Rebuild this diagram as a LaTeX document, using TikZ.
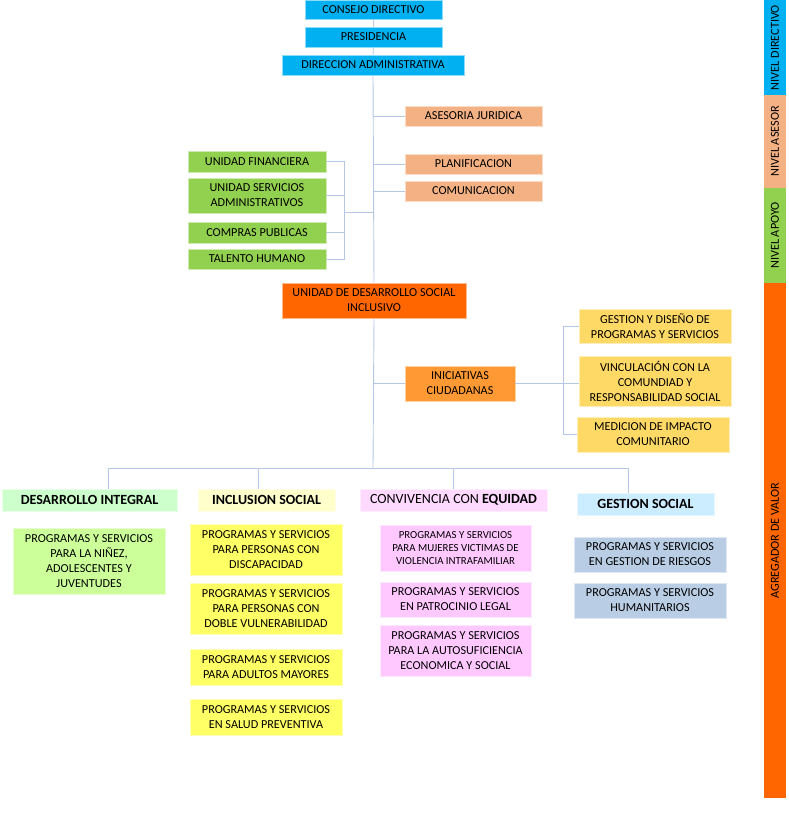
\documentclass[tikz,border=0pt]{standalone}
\usepackage{fontspec}
\setmainfont{Carlito}
\definecolor{topblue}{HTML}{00B0F0}
\definecolor{peach}{HTML}{F4B183}
\definecolor{apoyogreen}{HTML}{92D050}
\definecolor{deeporange}{HTML}{FF6600}
\definecolor{iniorange}{HTML}{FF9933}
\definecolor{gold}{HTML}{FFD966}
\definecolor{mint}{HTML}{CCFFCC}
\definecolor{lime}{HTML}{CCFF99}
\definecolor{cream}{HTML}{FFFFCC}
\definecolor{lemon}{HTML}{FFFF66}
\definecolor{lightpink}{HTML}{FFD9FF}
\definecolor{pink}{HTML}{FFC9FF}
\definecolor{skyblue}{HTML}{CCECFF}
\definecolor{steel}{HTML}{B9CDE5}
\definecolor{lineblue}{HTML}{B4C7E7}
\newcommand{\orgfont}{\fontsize{12.2}{15}\selectfont}
\newcommand{\headfont}{\fontsize{14}{16}\selectfont}
\tikzset{
  box/.style={fill=#1, draw=#1!45!white, line width=0.7pt, inner sep=0pt,
    align=center, font=\orgfont, text=black},
  head/.style={box=#1, font=\headfont\bfseries},
  level/.style={fill=#1, inner sep=0pt, rotate=90, minimum height=22pt,
    font=\orgfont, text=black},
  link/.style={draw=lineblue, line width=0.9pt}
}
\begin{document}
\begin{tikzpicture}[x=1pt,y=-1pt]
  \useasboundingbox (0,0) rectangle (788,819);
  % nivel directivo
  \node[box=topblue, minimum width=137pt, minimum height=19pt] (consejo) at (373.5,9.5) {CONSEJO DIRECTIVO};
  \node[box=topblue, minimum width=137pt, minimum height=20pt] (presid) at (373.5,37) {PRESIDENCIA};
  \node[box=topblue, minimum width=182pt, minimum height=20pt] (direc) at (373,65) {DIRECCION ADMINISTRATIVA};
  % nivel asesor
  \node[box=peach, minimum width=137pt, minimum height=20pt] (asesoria) at (473.5,116) {ASESORIA JURIDICA};
  \node[box=peach, minimum width=137pt, minimum height=20pt] (planif) at (473.5,164) {PLANIFICACION};
  \node[box=peach, minimum width=137pt, minimum height=20pt] (comun) at (473.5,191) {COMUNICACION};
  % nivel apoyo
  \node[box=apoyogreen, minimum width=138pt, minimum height=21pt] (financ) at (257,161.5) {UNIDAD FINANCIERA};
  \node[box=apoyogreen, minimum width=138pt, minimum height=35pt] (servic) at (257,195.5) {UNIDAD SERVICIOS\\ADMINISTRATIVOS};
  \node[box=apoyogreen, minimum width=138pt, minimum height=21pt] (compras) at (257,232.5) {COMPRAS PUBLICAS};
  \node[box=apoyogreen, minimum width=138pt, minimum height=20pt] (talento) at (257,259) {TALENTO HUMANO};
  % agregador de valor
  \node[box=deeporange, minimum width=184pt, minimum height=35pt] (udsi) at (374,300.5) {UNIDAD DE DESARROLLO SOCIAL\\INCLUSIVO};
  \node[box=iniorange, minimum width=110pt, minimum height=35pt] (inicia) at (460,383.5) {INICIATIVAS\\CIUDADANAS};
  \node[box=gold, minimum width=152pt, minimum height=34pt] (gestdis) at (655,326) {GESTION Y DISEÑO DE\\PROGRAMAS Y SERVICIOS};
  \node[box=gold, minimum width=152pt, minimum height=50pt] (vincul) at (655,381.5) {VINCULACIÓN CON LA\\COMUNDIAD Y\\RESPONSABILIDAD SOCIAL};
  \node[box=gold, minimum width=152pt, minimum height=35pt] (medic) at (653,434.5) {MEDICION DE IMPACTO\\COMUNITARIO};
  % areas
  \node[head=mint, minimum width=175pt, minimum height=22pt] (desint) at (89.5,500) {DESARROLLO INTEGRAL};
  \node[head=cream, minimum width=137pt, minimum height=22pt] (inclus) at (266.5,500) {INCLUSION SOCIAL};
  \node[box=lightpink, font=\headfont, minimum width=187pt, minimum height=22pt] (conviv) at (453.5,500) {CONVIVENCIA CON \textbf{EQUIDAD}};
  \node[head=skyblue, minimum width=137pt, minimum height=22pt] (gessoc) at (645.5,504) {GESTION SOCIAL};
  % programas
  \node[box=lime, minimum width=152pt, minimum height=66pt] (ninez) at (89,561) {PROGRAMAS Y SERVICIOS\\PARA LA NIÑEZ,\\ADOLESCENTES Y\\JUVENTUDES};
  \node[box=lemon, minimum width=152pt, minimum height=51pt] (discap) at (266,549.5) {PROGRAMAS Y SERVICIOS\\PARA PERSONAS CON\\DISCAPACIDAD};
  \node[box=lemon, minimum width=152pt, minimum height=51pt] (doble) at (266,608.5) {PROGRAMAS Y SERVICIOS\\PARA PERSONAS CON\\DOBLE VULNERABILIDAD};
  \node[box=lemon, minimum width=152pt, minimum height=36pt] (adultos) at (266,667) {PROGRAMAS Y SERVICIOS\\PARA ADULTOS MAYORES};
  \node[box=lemon, minimum width=152pt, minimum height=36pt] (salud) at (266,717) {PROGRAMAS Y SERVICIOS\\EN SALUD PREVENTIVA};
  \node[box=pink, font=\fontsize{10.8}{13}\selectfont, minimum width=151pt, minimum height=46pt] (mujeres) at (455.5,548) {PROGRAMAS Y SERVICIOS\\PARA MUJERES VICTIMAS DE\\VIOLENCIA INTRAFAMILIAR};
  \node[box=pink, minimum width=151pt, minimum height=35pt] (patroc) at (455.5,599.5) {PROGRAMAS Y SERVICIOS\\EN PATROCINIO LEGAL};
  \node[box=pink, minimum width=151pt, minimum height=51pt] (autosuf) at (455.5,650.5) {PROGRAMAS Y SERVICIOS\\PARA LA AUTOSUFICIENCIA\\ECONOMICA Y SOCIAL};
  \node[box=steel, minimum width=152pt, minimum height=35pt] (riesgos) at (650,554.5) {PROGRAMAS Y SERVICIOS\\EN GESTION DE RIESGOS};
  \node[box=steel, minimum width=152pt, minimum height=35pt] (humani) at (650,600.5) {PROGRAMAS Y SERVICIOS\\HUMANITARIOS};
  % niveles
  \node[level=topblue, minimum width=95pt] (nivdir) at (775,47.5) {NIVEL DIRECTIVO};
  \node[level=peach, minimum width=93pt] (nivase) at (775,141.5) {NIVEL ASESOR};
  \node[level=apoyogreen, minimum width=95pt] (nivapo) at (775,235.5) {NIVEL APOYO};
  \node[level=deeporange, minimum width=515pt] (nivagr) at (775,540.5) {AGREGADOR DE VALOR};
  % routine for connectors
  \coordinate (apoyo) at (344,212);
  \coordinate (inibar) at (563,382);
  \coordinate (bus) at (373,468);
  \draw[link] (consejo) -- (presid);
  \draw[link] (presid) -- (direc);
  \draw[link] (direc.south) -- (udsi.north);
  \draw[link] (asesoria.west) -- (direc.south |- asesoria.west);
  \draw[link] (planif.west) -- (direc.south |- planif.west);
  \draw[link] (comun.west) -- (direc.south |- comun.west);
  \draw[link] (financ.east) -- (financ.east -| apoyo) -- (talento.east -| apoyo) -- (talento.east);
  \draw[link] (servic.east) -- (servic.east -| apoyo);
  \draw[link] (compras.east) -- (compras.east -| apoyo);
  \draw[link] (apoyo) -- (apoyo -| direc.south);
  \draw[link] (inicia.west) -- (inicia.west -| udsi.south);
  \draw[link] (inicia.east) -- (inicia.east -| vincul.west);
  \draw[link] (gestdis.west) -- (gestdis.west -| inibar) -- (medic.west -| inibar) -- (medic.west);
  \draw[link] (udsi.south) -- (bus);
  \draw[link] ([xshift=18.5pt]desint.north) |- (bus);
  \draw[link] ([xshift=-8.5pt]inclus.north) |- (bus);
  \draw[link] (conviv.north) |- (bus);
  \draw[link] ([xshift=-17.5pt]gessoc.north) |- (bus);
\end{tikzpicture}
\end{document}
